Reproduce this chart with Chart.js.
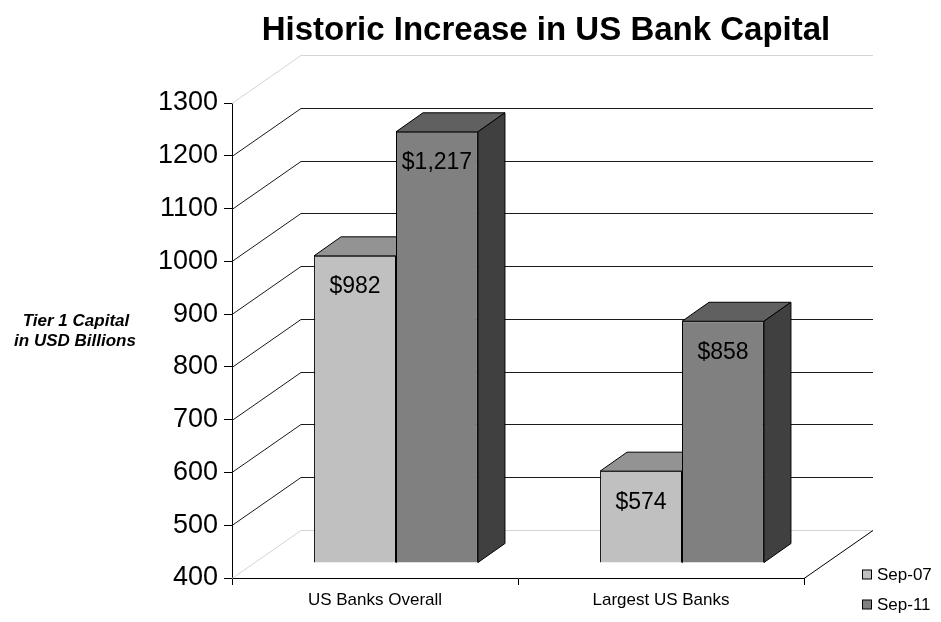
<!DOCTYPE html>
<html>
<head>
<meta charset="utf-8">
<script src="https://cdn.jsdelivr.net/npm/chart.js@4/dist/chart.umd.min.js"></script>
<style>
  html, body { margin: 0; padding: 0; background: #fff; }
  canvas { display: block; }
</style>
</head>
<body>
<canvas id="c" width="941" height="622"></canvas>
<script>
// ---- data ----
const categories = ['US Banks Overall', 'Largest US Banks'];
const seriesNames = ['Sep-07', 'Sep-11'];
const sep07 = [982, 574];
const sep11 = [1217, 858];
const yMin = 400;
const yMax = 1300;
const yStep = 100;
const titleText = 'Historic Increase in US Bank Capital';
const yTitleLines = ['Tier 1 Capital', 'in USD Billions'];

// ---- styles ----
const FONT = 'Arial, "Liberation Sans", sans-serif';
const frontColors = ['#c0c0c0', '#808080'];
const topColors = ['#939393', '#606060'];
const sideColors = ['#606060', '#404040'];
const F = { fx: 21, fy: -15, dx: 27, dy: -19, wx: 69, wy: -48 };

function fmt(v) { return '$' + v.toLocaleString('en-US'); }

function line(ctx, x1, y1, x2, y2, color) {
  ctx.beginPath();
  ctx.strokeStyle = color;
  ctx.lineWidth = 1;
  ctx.moveTo(x1, y1);
  ctx.lineTo(x2, y2);
  ctx.stroke();
}
function poly(ctx, pts, fill) {
  ctx.beginPath();
  ctx.moveTo(pts[0][0], pts[0][1]);
  for (let i = 1; i < pts.length; i++) ctx.lineTo(pts[i][0], pts[i][1]);
  ctx.closePath();
  ctx.fillStyle = fill;
  ctx.fill();
  ctx.strokeStyle = '#000';
  ctx.lineWidth = 1;
  ctx.stroke();
}

const threeD = {
  id: 'threeD',
  beforeDatasetsDraw(chart) {
    const ctx = chart.ctx;
    const a = chart.chartArea;
    const ys = chart.scales.y;
    ctx.save();
    const ticks = ys.ticks;
    ticks.forEach((t, i) => {
      const yf = Math.round(ys.getPixelForValue(t.value)) + 0.5;
      const edge = (i === 0 || i === ticks.length - 1);
      const col = edge ? '#d4d4d4' : '#1a1a1a';
      line(ctx, a.left + F.wx, yf + F.wy, a.right + F.wx, yf + F.wy, col);
      line(ctx, a.left, yf, a.left + F.wx, yf + F.wy, col);
    });
    const yb = Math.round(ys.getPixelForValue(yMin)) + 0.5;
    line(ctx, a.right, yb, a.right + F.wx, yb + F.wy, '#000');
    ctx.restore();
  },
  // bars are drawn below, in series order, each with its 3D faces
  beforeDatasetDraw() { return false; },
  afterDatasetsDraw(chart) {
    const ctx = chart.ctx;
    const n = chart.data.datasets.length;
    ctx.save();
    ctx.translate(F.fx, F.fy);
    for (let di = 0; di < n; di++) {
      const meta = chart.getDatasetMeta(di);
      meta.data.forEach(el => {
        el.draw(ctx, chart.chartArea);
        const p = el.getProps(['x', 'y', 'base', 'width'], true);
        const l = p.x - p.width / 2, r = p.x + p.width / 2;
        poly(ctx, [[l, p.y], [l + F.dx, p.y + F.dy], [r + F.dx, p.y + F.dy], [r, p.y]], topColors[di]);
        poly(ctx, [[r, p.y], [r + F.dx, p.y + F.dy], [r + F.dx, p.base + F.dy], [r, p.base]], sideColors[di]);
      });
    }
    ctx.restore();

    ctx.save();
    ctx.font = '23px ' + FONT;
    ctx.fillStyle = '#000';
    ctx.textAlign = 'center';
    ctx.textBaseline = 'middle';
    chart.data.datasets.forEach((ds, di) => {
      const meta = chart.getDatasetMeta(di);
      meta.data.forEach((el, i) => {
        const p = el.getProps(['x', 'y'], true);
        ctx.fillText(fmt(ds.data[i]), p.x + F.fx, p.y + F.fy + 31);
      });
    });
    ctx.restore();
  },
  afterDraw(chart) {
    const ctx = chart.ctx;
    const a = chart.chartArea;
    ctx.save();
    ctx.fillStyle = '#000';
    ctx.font = 'bold 33px ' + FONT;
    ctx.textAlign = 'center';
    ctx.textBaseline = 'middle';
    ctx.fillText(titleText, 546, 31);
    ctx.font = 'italic bold 17px ' + FONT;
    ctx.fillText(yTitleLines[0], a.left - 156, 321);
    ctx.fillText(yTitleLines[1], a.left - 157, 341);
    ctx.font = '17px ' + FONT;
    ctx.textAlign = 'left';
    chart.data.datasets.forEach((ds, i) => {
      const cy = 575 + i * 30;
      ctx.fillStyle = ds.backgroundColor;
      ctx.fillRect(862.5, cy - 5, 9, 9);
      ctx.strokeStyle = '#000';
      ctx.lineWidth = 1;
      ctx.strokeRect(862.5, cy - 5, 9, 9);
      ctx.fillStyle = '#000';
      ctx.fillText(ds.label, 877, cy);
    });
    ctx.restore();
  }
};

new Chart(document.getElementById('c'), {
  type: 'bar',
  data: {
    labels: categories,
    datasets: [
      { label: seriesNames[0], data: sep07, base: yMin, backgroundColor: frontColors[0], borderColor: '#000', borderWidth: 1 },
      { label: seriesNames[1], data: sep11, base: yMin, backgroundColor: frontColors[1], borderColor: '#000', borderWidth: 1 }
    ]
  },
  options: {
    responsive: false,
    animation: false,
    events: [],
    layout: { padding: { top: 103, right: 137, bottom: 0, left: 0 } },
    categoryPercentage: 0.573,
    barPercentage: 1.0,
    plugins: { legend: { display: false }, title: { display: false }, tooltip: { enabled: false } },
    scales: {
      x: {
        grid: { display: true, drawOnChartArea: false, drawTicks: true, tickLength: 7, color: '#000', offset: true },
        border: { display: true, color: '#000' },
        ticks: { color: '#000', font: { family: FONT, size: 17 }, padding: 5, maxRotation: 0 },
        afterFit(s) { s.height = 44; }
      },
      y: {
        min: yMin,
        max: yMax,
        grid: { display: true, drawOnChartArea: false, drawTicks: true, tickLength: 8, color: '#000' },
        border: { display: true, color: '#000' },
        ticks: { stepSize: yStep, color: '#000', font: { family: FONT, size: 27 }, padding: 6, callback: v => String(v) },
        afterFit(s) { s.width = 232; }
      }
    }
  },
  plugins: [threeD]
});
</script>
</body>
</html>
